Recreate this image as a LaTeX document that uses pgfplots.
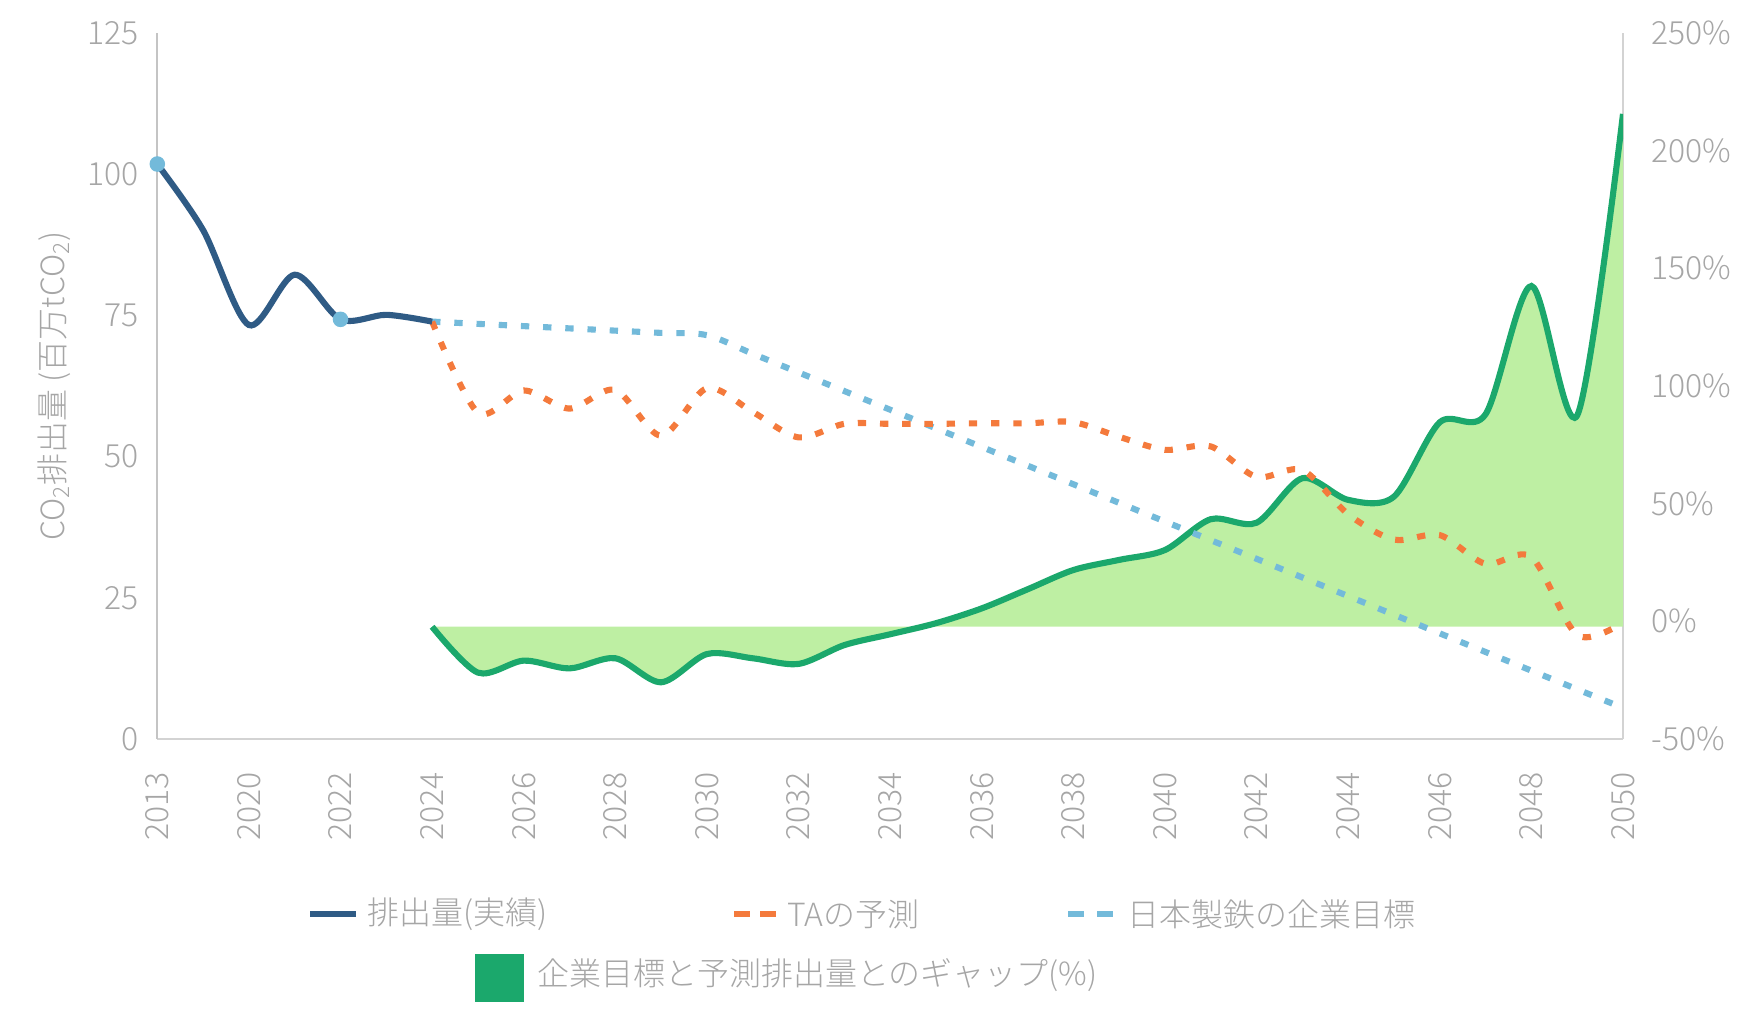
\documentclass[border=0pt]{standalone}
\usepackage{fontspec}
\setmainfont{Noto Sans CJK JP Light}
\usepackage{pgfplots}
\usepackage{pgfplotstable}
\pgfplotsset{compat=1.18}
\usepgfplotslibrary{fillbetween}
\definecolor{actual}{HTML}{2F5B85}
\definecolor{ta}{HTML}{F47A3C}
\definecolor{target}{HTML}{73BADA}
\definecolor{gapline}{HTML}{1BA86C}
\definecolor{gapfill}{HTML}{BEEFA3}
\definecolor{txt}{HTML}{A6A6A6}
\definecolor{axl}{HTML}{D3D3D3}
\definecolor{axly}{HTML}{C4C4C4}
\newcommand\lgfont{\fontsize{11.5pt}{13pt}\selectfont}

\pgfplotstableread{
x y
0 101.8
1 90.1
2 73.3
3 82.2
4 74.3
5 75.1
6 73.9
}\actualdata

\pgfplotstableread{
x y
0 101.8
4 74.3
}\markerdata

\pgfplotstableread{
x y
6 73.9
7 73.5
8 73.1
9 72.7
10 72.3
11 71.9
12 71.5
13 68.2
14 64.9
15 61.6
16 58.3
17 55.0
18 51.7
19 48.4
20 45.1
21 41.8
22 38.5
23 35.2
24 31.9
25 28.6
26 25.3
27 22.0
28 18.7
29 15.4
30 12.1
31 8.8
32 5.5
}\targetdata

\pgfplotstableread{
x y
6 73.9
7 57.8
8 61.7
9 58.5
10 61.8
11 53.7
12 62.1
13 57.9
14 53.4
15 55.8
16 55.8
17 55.8
18 55.9
19 55.9
20 56.1
21 53.5
22 51.2
23 51.8
24 46.4
25 47.6
26 39.8
27 35.3
28 36.1
29 31.0
30 32.2
31 18.4
32 20.6
}\tadata

\pgfplotstableread{
x y
6 -2.3
7 -21.8
8 -16.7
9 -20.0
10 -15.7
11 -25.9
12 -13.9
13 -15.7
14 -18.1
15 -10.1
16 -5.5
17 -0.8
18 5.5
19 13.6
20 21.8
21 26.1
22 30.3
23 43.4
24 41.9
25 60.8
26 51.6
27 53.0
28 84.6
29 88.0
30 142.5
31 87.5
32 215.6
}\gapdata

\pgfplotstableread{
x y
6 -2.3
32 -2.3
}\basedata

\begin{document}
\begin{tikzpicture}
\pgfplotsset{
  common/.style={
    at={(56.63pt,105.84pt)}, anchor=south west,
    width=527.65pt, height=254.16pt, scale only axis,
    xmin=0, xmax=32,
    major tick length=0pt, minor tick num=0,
    tick label style={font=\lgfont, text=txt},
    label style={font=\lgfont, text=txt},
  }
}
% secondary axis: gap (%)
\begin{axis}[common,
  ymin=-50, ymax=250,
  axis y line*=right, axis x line*=bottom,
  x axis line style={draw=none},
  xtick=\empty,
  y axis line style={-, draw=axl, line width=0.8pt},
  ytick={-50,0,50,100,150,200,250},
  yticklabels={-50\%,0\%,50\%,100\%,150\%,200\%,250\%},
  yticklabel shift=6.7pt,
]
\addplot[draw=none, smooth, name path=gap] table[x=x,y=y] {\gapdata};
\addplot[draw=none, name path=base] table[x=x,y=y] {\basedata};
\addplot[gapfill, draw=none] fill between[of=gap and base];
\addplot[gapline, line width=2.2pt, smooth] table[x=x,y=y] {\gapdata};
\end{axis}
% primary axis: emissions
\begin{axis}[common,
  ymin=0, ymax=125,
  axis y line*=left, axis x line*=bottom,
  x axis line style={-, draw=axl, line width=0.8pt},
  y axis line style={-, draw=axly, line width=0.8pt},
  ytick={0,25,50,75,100,125},
  yticklabels={0,25,50,75,100,125},
  yticklabel shift=3.1pt,
  xtick={0,2,...,32},
  xticklabels={2013,2020,2022,2024,2026,2028,2030,2032,2034,2036,2038,2040,2042,2044,2046,2048,2050},
  xticklabel style={rotate=90, anchor=east},
  xticklabel shift=8.4pt,
  clip=false,
  ylabel={CO\textsubscript{2}排出量 (百万tCO\textsubscript{2})},
  ylabel style={at={(axis description cs:-0.0705,0.5)}, anchor=center},
]
\addplot[target, line width=2.2pt, smooth, dash pattern=on 3pt off 5pt] table[x=x,y=y] {\targetdata};
\addplot[ta, line width=2.2pt, smooth, dash pattern=on 3pt off 5pt] table[x=x,y=y] {\tadata};
\addplot[actual, line width=2.2pt, smooth] table[x=x,y=y] {\actualdata};
\addplot[only marks, mark=*, mark size=2.6pt, mark options={fill=target, draw=target}] table[x=x,y=y] {\markerdata};
\end{axis}
% legend
\draw[actual, line width=2.16pt] (111.6pt,42.84pt) -- (128.16pt,42.84pt);
\node[anchor=west, inner sep=0pt, text=txt, font=\lgfont] at (132.12pt,42.84pt) {排出量(実績)};
\draw[ta, line width=2.16pt] (264.24pt,42.84pt) -- (270.0pt,42.84pt);
\draw[ta, line width=2.16pt] (273.6pt,42.84pt) -- (279.36pt,42.84pt);
\node[anchor=west, inner sep=0pt, text=txt, font=\lgfont] at (283.32pt,42.84pt) {TAの予測};
\draw[target, line width=2.16pt] (384.48pt,42.84pt) -- (390.24pt,42.84pt);
\draw[target, line width=2.16pt] (394.92pt,42.84pt) -- (400.68pt,42.84pt);
\node[anchor=west, inner sep=0pt, text=txt, font=\lgfont] at (405.72pt,42.84pt) {日本製鉄の企業目標};
\fill[gapline] (171pt,11.16pt) rectangle (188.64pt,28.44pt);
\node[anchor=west, inner sep=0pt, text=txt, font=\lgfont] at (193.32pt,20.88pt) {企業目標と予測排出量とのギャップ(\%)};
\pgfresetboundingbox
\useasboundingbox (0pt,0pt) rectangle (634.68pt,371.88pt);
\end{tikzpicture}
\end{document}
